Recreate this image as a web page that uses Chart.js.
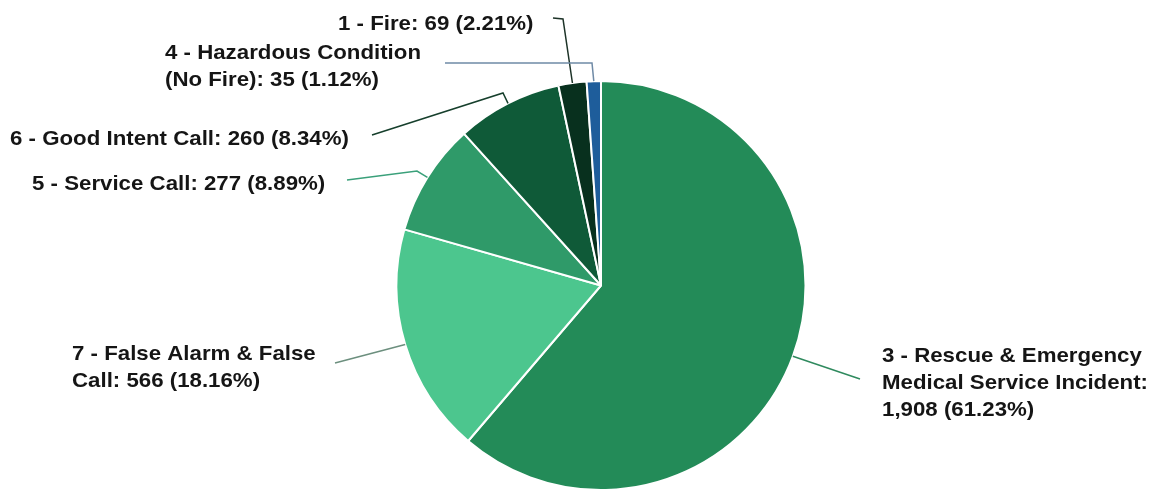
<!DOCTYPE html>
<html>
<head>
<meta charset="utf-8">
<script src="https://cdn.jsdelivr.net/npm/chart.js@4/dist/chart.umd.min.js"></script>
<style>
  html, body { margin: 0; padding: 0; background: #ffffff; }
  #wrap { width: 1156px; height: 491px; }
</style>
</head>
<body>
<div id="wrap"><canvas id="pie" width="1156" height="491"></canvas></div>
<script>
// Incident types, clockwise from 12 o'clock
const categories = [
  '3 - Rescue & Emergency Medical Service Incident',
  '7 - False Alarm & False Call',
  '5 - Service Call',
  '6 - Good Intent Call',
  '1 - Fire',
  '4 - Hazardous Condition (No Fire)'
];
const counts = [1908, 566, 277, 260, 69, 35];
const percents = ['61.23%', '18.16%', '8.89%', '8.34%', '2.21%', '1.12%'];

const sliceColors = ['#238b58', '#4cc68e', '#2f9a69', '#0f5a38', '#08301e', '#1e5d9b'];
const lineColors  = ['#2f8a5e', '#6c8f7e', '#3aa07a', '#163f2c', '#1d3328', '#6f8aa6'];

// Callout layout: bend point, end point of the leader, text anchor and wrap width
const callouts = [
  { bend: null,      end: [860, 379], text: [882, 362], wrap: 280 },
  { bend: null,      end: [335, 363], text: [72, 360],  wrap: 255 },
  { bend: [417, 171], end: [347, 180], text: [32, 190], wrap: 400 },
  { bend: [503, 93],  end: [372, 135], text: [10, 145], wrap: 400 },
  { bend: [563, 19],  end: [553, 18],  text: [338, 30], wrap: 400 },
  { bend: [592, 63],  end: [445, 63],  text: [165, 59], wrap: 262 }
];

const FONT_PX = 21;
const SCALE_X = 1.06;
const LINE_H = 27;

function wrapText(ctx, text, maxW) {
  const words = text.split(' ');
  const lines = [];
  let cur = '';
  for (const w of words) {
    const test = cur ? cur + ' ' + w : w;
    if (cur && ctx.measureText(test).width * SCALE_X > maxW) {
      lines.push(cur);
      cur = w;
    } else {
      cur = test;
    }
  }
  if (cur) lines.push(cur);
  return lines;
}

const calloutPlugin = {
  id: 'callouts',
  afterDatasetsDraw(chart) {
    const ctx = chart.ctx;
    const arcs = chart.getDatasetMeta(0).data;
    ctx.save();
    arcs.forEach((arc, i) => {
      const p = arc.getProps(['x', 'y', 'startAngle', 'endAngle', 'outerRadius'], true);
      const mid = (p.startAngle + p.endAngle) / 2;
      const sx = p.x + Math.cos(mid) * p.outerRadius;
      const sy = p.y + Math.sin(mid) * p.outerRadius;
      const c = callouts[i];
      ctx.beginPath();
      ctx.moveTo(sx, sy);
      if (c.bend) ctx.lineTo(c.bend[0], c.bend[1]);
      ctx.lineTo(c.end[0], c.end[1]);
      ctx.strokeStyle = lineColors[i];
      ctx.lineWidth = 1.5;
      ctx.stroke();

      const label = categories[i] + ': ' + counts[i].toLocaleString('en-US') + ' (' + percents[i] + ')';
      ctx.font = 'bold ' + FONT_PX + 'px "Liberation Sans", Arial, sans-serif';
      ctx.fillStyle = '#151515';
      ctx.textAlign = 'left';
      ctx.textBaseline = 'alphabetic';
      const lines = wrapText(ctx, label, c.wrap);
      lines.forEach((ln, k) => {
        ctx.save();
        ctx.translate(c.text[0], c.text[1] + k * LINE_H);
        ctx.scale(SCALE_X, 1);
        ctx.fillText(ln, 0, 0);
        ctx.restore();
      });
    });
    ctx.restore();
  }
};

new Chart(document.getElementById('pie'), {
  type: 'pie',
  data: {
    labels: categories,
    datasets: [{
      data: counts,
      backgroundColor: sliceColors,
      borderColor: '#ffffff',
      borderWidth: 2,
      hoverOffset: 0,
      offset: 0
    }]
  },
  options: {
    responsive: false,
    animation: false,
    layout: { padding: { top: 80, left: 46, right: 0, bottom: 0 } },
    plugins: {
      legend: { display: false },
      tooltip: { enabled: false }
    }
  },
  plugins: [calloutPlugin]
});
</script>
</body>
</html>
